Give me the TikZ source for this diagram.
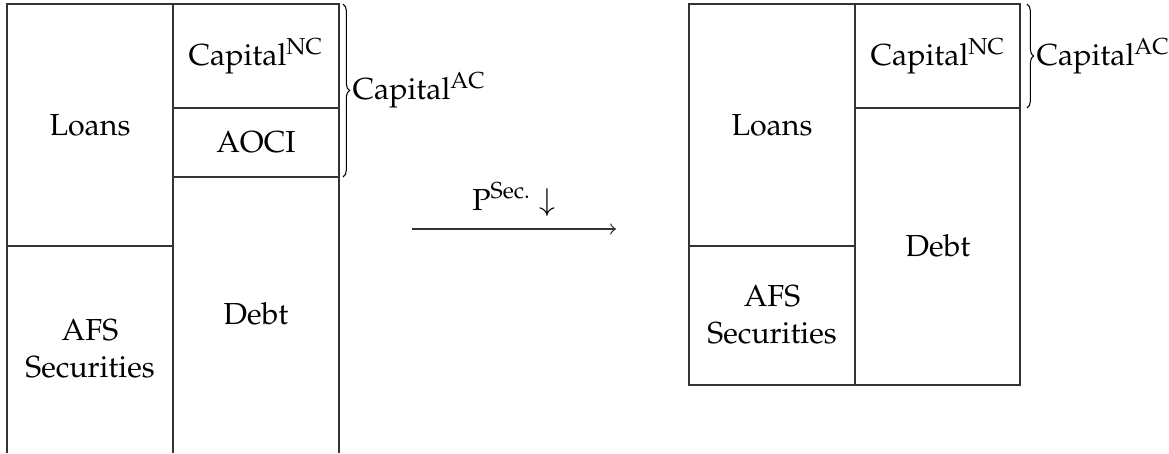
\documentclass[tikz,border=0pt]{standalone}
\usepackage[T1]{fontenc}
\usepackage{mathpazo}
\usetikzlibrary{decorations.pathreplacing}
\begin{document}
\begin{tikzpicture}[x=0.329pt,y=-0.329pt,
  rule/.style={draw=black!80,line width=0.45pt},
  lbl/.style={align=center,inner sep=0pt},
  curly/.style={decorate,decoration={brace,amplitude=2.2pt},line width=0.35pt}]
\useasboundingbox (0,0) rectangle (1169,453);
% ---- left balance sheet
\draw[rule] (7,453) -- (7,4) -- (339,4) -- (339,453);
\draw[rule] (173,4) -- (173,453);
\draw[rule] (7,246) -- (173,246);
\draw[rule] (173,108) -- (339,108);
\draw[rule] (173,177) -- (339,177);
\node[lbl] (lloans) at (90,125) {Loans};
\node[lbl] (lafs) at (90,349) {AFS\\Securities};
\node[lbl] (lcap) at (256,56) {Capital\textsuperscript{NC}};
\node[lbl] (laoci) at (256,142) {AOCI};
\node[lbl] (ldebt) at (256,314) {Debt};
\coordinate (lbt) at (343,4);
\coordinate (lbb) at (343,177);
\draw[curly] (lbt) -- (lbb);
\node[lbl,anchor=west] (lcapac) at (352,90) {Capital\textsuperscript{AC}};
% ---- arrow
\coordinate (as) at (412,229);
\coordinate (ae) at (616,229);
\draw[rule,->] (as) -- (ae) node[midway,above=4pt,lbl] (alab) {P\textsuperscript{Sec.} $\downarrow$};
% ---- right balance sheet
\draw[rule] (689,4) rectangle (1020,385);
\draw[rule] (855,4) -- (855,385);
\draw[rule] (689,246) -- (855,246);
\draw[rule] (855,108) -- (1020,108);
\node[lbl] (rloans) at (772,125) {Loans};
\node[lbl] (rafs) at (772,315) {AFS\\Securities};
\node[lbl] (rcap) at (938,56) {Capital\textsuperscript{NC}};
\node[lbl] (rdebt) at (938,246) {Debt};
\coordinate (rbt) at (1027,4);
\coordinate (rbb) at (1027,108);
\draw[curly] (rbt) -- (rbb);
\node[lbl,anchor=west] (rcapac) at (1036,56) {Capital\textsuperscript{AC}};
\end{tikzpicture}
\end{document}
